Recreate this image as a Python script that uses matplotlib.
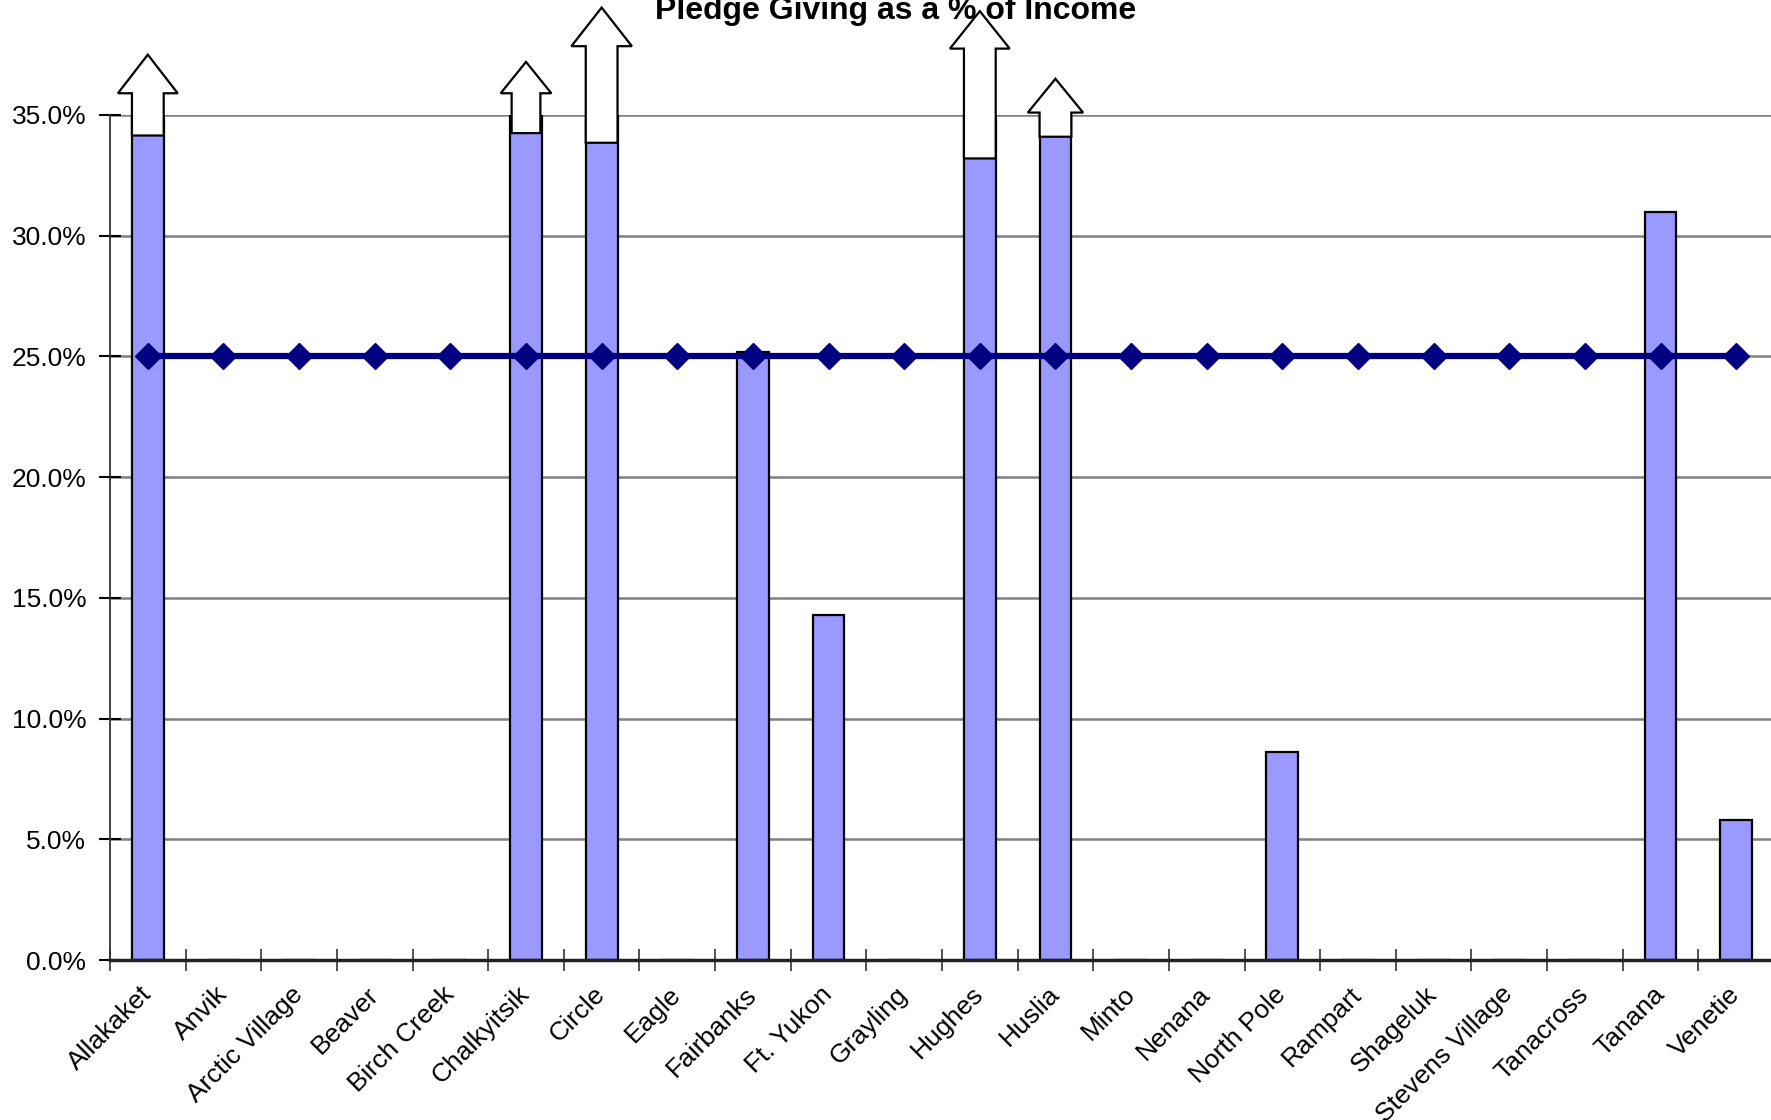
import matplotlib
matplotlib.use("Agg")
import matplotlib.pyplot as plt
from matplotlib.patches import FancyArrow
from matplotlib.ticker import PercentFormatter, FixedLocator

plt.rcParams['font.family'] = ['Liberation Sans', 'DejaVu Sans']

categories = ["Allakaket", "Anvik", "Arctic Village", "Beaver", "Birch Creek",
              "Chalkyitsik", "Circle", "Eagle", "Fairbanks", "Ft. Yukon",
              "Grayling", "Hughes", "Huslia", "Minto", "Nenana", "North Pole",
              "Rampart", "Shageluk", "Stevens Village", "Tanacross", "Tanana",
              "Venetie"]
# pledge giving as % of income (off-scale values shown with arrows)
pledge_pct = [45.0, 0, 0, 0, 0, 45.0, 45.0, 0, 25.2, 14.3, 0, 45.0, 45.0,
              0, 0, 8.6, 0, 0, 0, 0, 31.0, 5.8]
target_pct = [25.0] * len(categories)
yticks = [0, 5, 10, 15, 20, 25, 30, 35]

# off-scale arrows: category index, shaft bottom, head base, tip (in %), head width (category units)
arrow_idx = [0, 5, 6, 11, 12]
arrow_bottom = [34.15, 34.25, 33.85, 33.2, 34.1]
arrow_headbase = [35.9, 35.9, 37.85, 37.75, 35.1]
arrow_tip = [37.5, 37.2, 39.45, 39.3, 36.5]
arrow_headw = [0.79, 0.67, 0.8, 0.79, 0.73]
arrow_shaftw = [0.42, 0.38, 0.42, 0.42, 0.42]

W, H = 1771, 1120
fig = plt.figure(figsize=(W / 100, H / 100), dpi=100)
ax = fig.add_axes([110 / W, 1 - 960 / H, (1774 - 110) / W, (960 - 115) / H])

x = list(range(len(categories)))
ax.bar(x, pledge_pct, width=0.42, color='#9999FF', edgecolor='black',
       linewidth=1.6, zorder=2)
ax.plot(x, target_pct, color='#000080', linewidth=4.5, marker='D',
        markersize=13.5, zorder=3, clip_on=False)

for i, b, hb, t, hw, sw in zip(arrow_idx, arrow_bottom, arrow_headbase,
                               arrow_tip, arrow_headw, arrow_shaftw):
    ar = FancyArrow(i, b, 0, t - b, width=sw, head_width=hw,
                    head_length=t - hb, length_includes_head=True,
                    facecolor='white', edgecolor='black', linewidth=1.6,
                    clip_on=False, zorder=5)
    ax.add_patch(ar)

ax.set_xlim(-0.5, len(categories) - 0.5)
ax.set_ylim(0, 35)
ax.set_yticks(yticks)
ax.yaxis.set_major_formatter(PercentFormatter(decimals=1))
ax.yaxis.grid(True, color='#808080', linewidth=1.8, zorder=0)
ax.set_axisbelow(True)

ax.set_xticks(x)
ax.set_xticklabels(categories, rotation=45, ha='right', va='center',
                   rotation_mode='anchor', fontsize=19)
ax.xaxis.set_minor_locator(FixedLocator([k - 0.5 for k in range(len(categories) + 1)]))
ax.tick_params(axis='x', which='major', length=0, pad=22)
ax.tick_params(axis='x', which='minor', length=16, width=1.2, direction='inout', color='#333333')
ax.tick_params(axis='y', which='major', length=16, width=1.5, direction='inout',
               labelsize=19, pad=9, color='black')

for s in ['top', 'right']:
    ax.spines[s].set_visible(False)
ax.spines['left'].set_color('#333333')
ax.spines['left'].set_linewidth(1.3)
ax.spines['bottom'].set_color('#222222')
ax.spines['bottom'].set_linewidth(2.5)
ax.spines['left'].set_zorder(1)

fig.text(0.5055, 1 - 19 / H, "Pledge Giving as a % of Income", ha='center', va='baseline',
         fontsize=23, fontweight='bold')

fig.savefig("out.png", dpi=100)
